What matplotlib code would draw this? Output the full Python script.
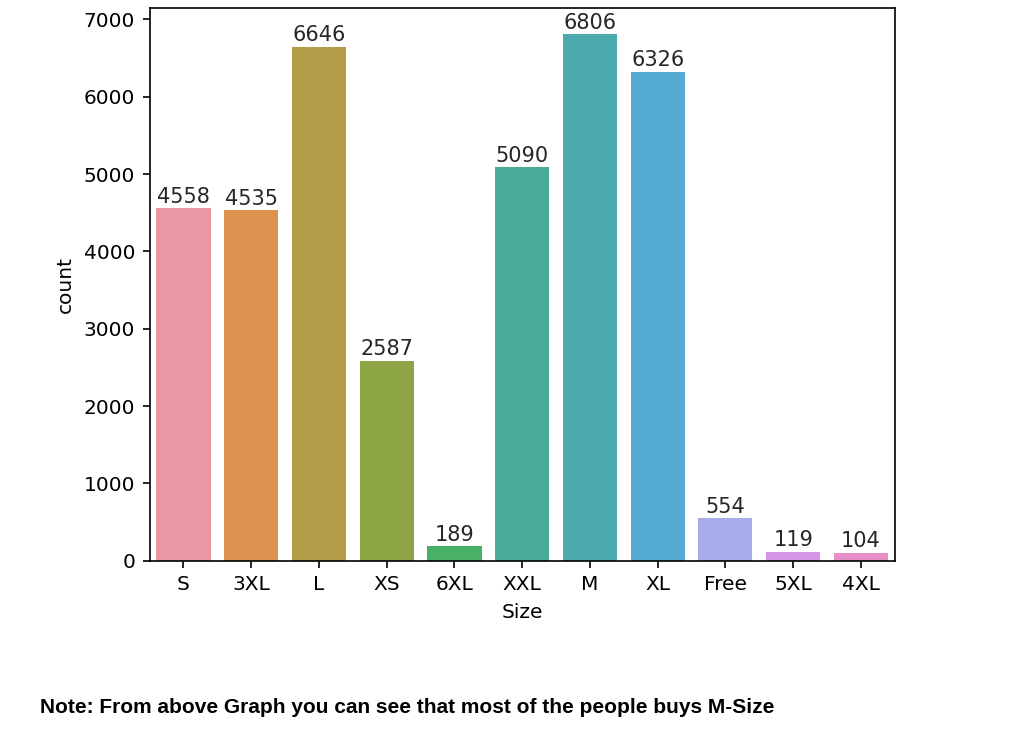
import matplotlib
matplotlib.use("Agg")
import matplotlib.pyplot as plt
import seaborn as sns

# counts per size
sizes = ["S", "3XL", "L", "XS", "6XL", "XXL", "M", "XL", "Free", "5XL", "4XL"]
counts = [4558, 4535, 6646, 2587, 189, 5090, 6806, 6326, 554, 119, 104]

colors = [sns.desaturate(c, 0.75) for c in sns.husl_palette(len(sizes), l=0.7, s=0.9)]

fig = plt.figure(figsize=(10.11, 7.35), dpi=100)
ax = fig.add_axes([0.148, 0.237, 0.737, 0.752])

bars = ax.bar(sizes, counts, width=0.8, color=colors)
ax.bar_label(bars, fontsize=15, color="#262626", padding=1)

ax.set_xlim(-0.5, len(sizes) - 0.5)
ax.set_xlabel("Size", fontsize=14.5, labelpad=6)
ax.set_ylabel("count", fontsize=14.5, labelpad=6)
ax.tick_params(labelsize=14.5, length=5.25, width=1.2, pad=5.25)
for sp in ax.spines.values():
    sp.set_linewidth(1.2)

fig.text(0.04, 0.024, "Note: From above Graph you can see that most of the people buys M-Size",
         fontsize=15, fontweight="bold", family="Liberation Sans", ha="left", va="bottom")

fig.savefig("out.png", dpi=100)
